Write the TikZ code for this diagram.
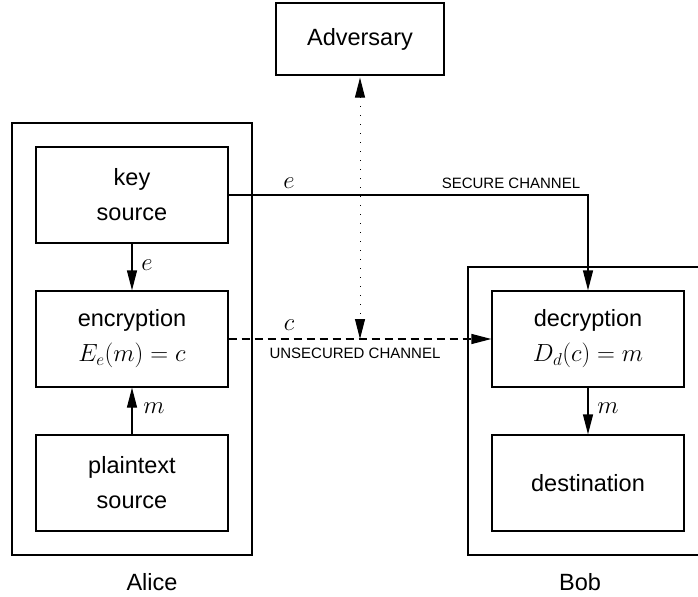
\documentclass[tikz,border=0pt]{standalone}
\usepackage{fontspec}
\setmainfont{Liberation Sans}
\usetikzlibrary{arrows.meta}
\tikzset{
  box/.style={draw, line width=1.3bp, minimum width=192bp, minimum height=96bp, align=center, inner sep=0pt},
  outer/.style={draw, line width=1.3bp, inner sep=0pt},
  conn/.style={line width=1.3bp},
  tip/.style={-{Triangle[length=20bp,width=10bp]}},
  lbl/.style={inner sep=0pt},
  small/.style={font=\fontsize{15bp}{18bp}\selectfont, inner sep=0pt}
}
\begin{document}
\begin{tikzpicture}[x=1bp,y=-1bp, font=\fontsize{23.5bp}{35bp}\selectfont]
\clip (0,0) rectangle (698,597);
\node[outer, minimum width=240bp, minimum height=432bp] (alice) at (132,339) {};
\node[outer, minimum width=240bp, minimum height=288bp] (bob) at (588,411) {};
\node[box] (key) at (132,195) {key\\source};
\node[box] (enc) at (132,339) {encryption\\$E_e(m)=c$};
\node[box] (plain) at (132,483) {plaintext\\source};
\node[box] (dec) at (588,339) {decryption\\$D_d(c)=m$};
\node[box] (dest) at (588,483) {destination};
\node[box, minimum width=168bp, minimum height=72bp] (adv) at (360,39) {Adversary};
\node[lbl] (alicelbl) at (152,582) {Alice};
\node[lbl] (boblbl) at (580,582) {Bob};
\coordinate (cross) at (360,339);
% arrows inside Alice / Bob
\draw[conn, tip] (key.south) -- (enc.north);
\draw[conn, tip] (plain.north) -- (enc.south);
\draw[conn, tip] (dec.south) -- (dest.north);
\node[lbl] (le1) at (147,265) {$e$};
\node[lbl] (lm1) at (154,408) {$m$};
\node[lbl] (lm2) at (608,408) {$m$};
% secure channel
\draw[conn, tip] (key.east) -| (dec.north);
\node[lbl] (le2) at (289,183) {$e$};
\node[small] (sc) at (511,183) {SECURE CHANNEL};
% unsecured channel
\draw[conn, tip, dash pattern=on 8bp off 5bp] (enc.east) -- (dec.west);
\node[lbl] (lc) at (289,325) {$c$};
\node[small] (uc) at (355,353) {UNSECURED CHANNEL};
% adversary
\draw[conn, line width=1bp, dash pattern=on 1bp off 8bp, {Triangle[length=20bp,width=10bp]}-{Triangle[length=20bp,width=10bp]}] ([yshift=-2bp]adv.south) -- (cross);
\end{tikzpicture}
\end{document}
